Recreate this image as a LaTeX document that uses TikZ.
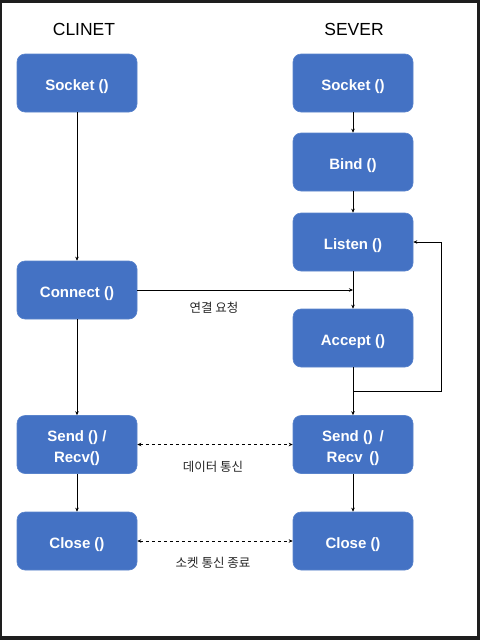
\documentclass[tikz,border=0pt]{standalone}
\usepackage{fontspec}
\setmainfont{Liberation Sans}
\newfontfamily\kofont{Noto Sans CJK KR}
\usetikzlibrary{arrows.meta,positioning,calc}
\definecolor{CallBlue}{HTML}{4472C4}
\definecolor{CallEdge}{HTML}{5A84CC}
\definecolor{FrameGray}{HTML}{1E1E1E}
\definecolor{NoteGray}{HTML}{262626}
\tikzset{
  callbox/.style={draw=CallEdge,line width=.6pt,fill=CallBlue,rounded corners=8pt,minimum width=120pt,minimum height=58pt,align=center,text=white,text height=15pt,text depth=0pt,font=\bfseries\fontsize{15}{21}\selectfont},
  twoline/.style={text height=36pt,text depth=0pt},
  flow/.style={-{Stealth[length=4pt,width=3.5pt]},line width=.9pt},
  talk/.style={{Stealth[length=4pt,width=3.5pt]}-{Stealth[length=4pt,width=3.5pt]},line width=.9pt,dash pattern=on 3pt off 3pt},
  note/.style={font=\kofont\fontsize{12.5}{14}\selectfont,text=NoteGray},
  side/.style={font=\fontsize{17.5}{20}\selectfont}
}

\begin{document}
\begin{tikzpicture}[x=1pt,y=-1pt]
\fill[FrameGray] (0,0) rectangle (480,640);
\fill[white] (2,3) rectangle (477,636);
\useasboundingbox (0,0) rectangle (480,640);
% column titles
\node[side] (ct) at (84,29) {CLINET};
\node[side] (st) at (354,29) {SEVER};
% client side
\node[callbox] (cs) at (77,83) {Socket ()};
\node[callbox] (cc) at (77,290) {Connect ()};
\node[callbox,twoline] (csr) at (77,444.5) {Send () /\\Recv()};
\node[callbox] (ccl) at (77,541) {Close ()};
% server side
\node[callbox] (ss) at (353,83) {Socket ()};
\node[callbox] (sb) at (353,162) {Bind ()};
\node[callbox] (sl) at (353,242) {Listen ()};
\node[callbox] (sa) at (353,338) {Accept ()};
\node[callbox,twoline] (ssr) at (353,444.5) {Send () \,/\\Recv \,()};
\node[callbox] (scl) at (353,541) {Close ()};
% flow
\draw[flow] (cs)--(cc);\draw[flow] (cc)--(csr);\draw[flow] (csr)--(ccl);
\draw[flow] (ss)--(sb);\draw[flow] (sb)--(sl);\draw[flow] (sl)--(sa);
\coordinate (join) at (sa.north |- cc.east);
\draw[flow] (cc.east)--(join);
\draw[flow] (sa)--(ssr);\draw[flow] (ssr)--(scl);
\coordinate (split) at ($(sa.south)!.5!(ssr.north)$);
\draw[flow] (split)--++(88,0)|-(sl.east);
\draw[talk] (csr)--(ssr);
\draw[talk] (ccl)--(scl);
% notes
\node[note] (n1) at (214,308) {연결 요청};
\node[note] (n2) at (213,467) {데이터 통신};
\node[note] (n3) at (213,563) {소켓 통신 종료};
\end{tikzpicture}
\end{document}
